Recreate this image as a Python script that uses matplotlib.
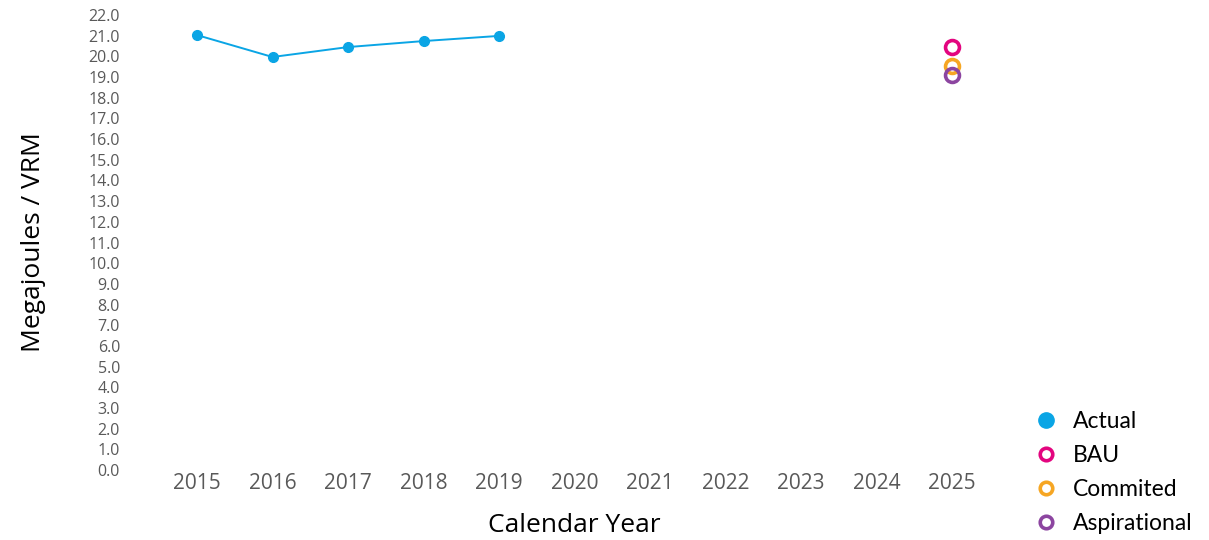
import matplotlib
matplotlib.use('Agg')
from matplotlib import pyplot as plt
from matplotlib.lines import Line2D

plt.rcParams['font.family'] = ['Open Sans', 'DejaVu Sans']

# data
years = [2015, 2016, 2017, 2018, 2019]
actual = [21.03, 19.97, 20.45, 20.74, 20.99]
target_year = 2025
bau = 20.45
commited = 19.54
aspirational = 19.10
all_years = list(range(2015, 2026))
y_ticks = [i * 1.0 for i in range(23)]

blue = '#0aa5e5'
pink = '#e3057f'
orange = '#f6a623'
purple = '#8c45a0'

fig = plt.figure(figsize=(12.09, 5.40), dpi=100)
ax = fig.add_axes([0.1005, 0.1296, 0.7494, 0.8426])

ax.plot(years, actual, color=blue, marker='o', markersize=7, linewidth=1.4)
ax.plot([target_year], [bau], 'o', markersize=10, markerfacecolor='white',
        markeredgecolor=pink, markeredgewidth=2.6)
ax.plot([target_year], [commited], 'o', markersize=10, markerfacecolor='white',
        markeredgecolor=orange, markeredgewidth=2.6)
ax.plot([target_year], [aspirational], 'o', markersize=10, markerfacecolor='none',
        markeredgecolor=purple, markeredgewidth=2.6)

ax.set_xlim(2014, 2026)
ax.set_ylim(0, 22)
ax.set_xticks(all_years)
ax.set_xticklabels([str(y) for y in all_years], fontsize=15, color='#595959')
ax.set_yticks(y_ticks)
ax.set_yticklabels(['%.1f' % v for v in y_ticks], fontsize=11.5, color='#595959')
ax.tick_params(axis='both', length=0)
ax.tick_params(axis='x', pad=2)
ax.tick_params(axis='y', pad=1)
for s in ax.spines.values():
    s.set_visible(False)

ax.set_ylabel('Megajoules / VRM', fontsize=19, labelpad=31)
ax.set_xlabel('Calendar Year', fontsize=19, labelpad=14)

handles = [
    Line2D([], [], linestyle='none', marker='o', markersize=11, color=blue),
    Line2D([], [], linestyle='none', marker='o', markersize=9, markerfacecolor='white',
           markeredgecolor=pink, markeredgewidth=2.6),
    Line2D([], [], linestyle='none', marker='o', markersize=9, markerfacecolor='white',
           markeredgecolor=orange, markeredgewidth=2.6),
    Line2D([], [], linestyle='none', marker='o', markersize=9, markerfacecolor='white',
           markeredgecolor=purple, markeredgewidth=2.6),
]
fig.legend(handles, ['Actual', 'BAU', 'Commited', 'Aspirational'],
           loc='lower left', bbox_to_anchor=(0.8293, -0.028), frameon=False,
           prop={'family': ['Lato', 'Open Sans'], 'size': 16.5},
           handletextpad=0.15, labelspacing=0.57)

fig.savefig('out.png', dpi=100)
